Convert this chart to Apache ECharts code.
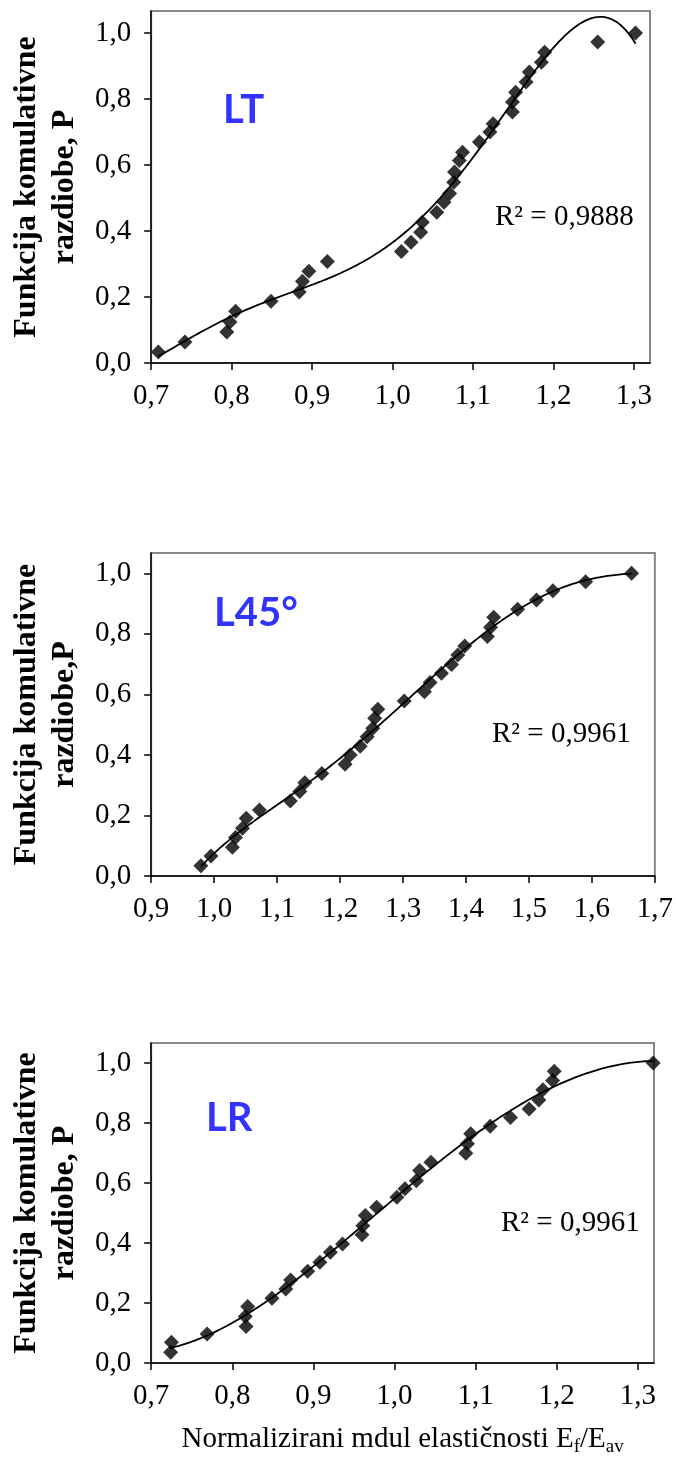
<!DOCTYPE html>
<html>
<head>
<meta charset="utf-8">
<script src="https://cdn.jsdelivr.net/npm/echarts@6/dist/echarts.min.js"></script>
<style>
html,body{margin:0;padding:0;background:#fff;}
#main{width:676px;height:1459px;}
</style>
</head>
<body>
<div id="main"></div>
<script>
// LT
var ltX = [0.709,0.742,0.794,0.798,0.805,0.849,0.884,0.888,0.896,0.919,1.011,1.023,1.035,1.037,1.055,1.064,1.071,1.076,1.077,1.083,1.087,1.108,1.121,1.125,1.149,1.149,1.153,1.166,1.170,1.185,1.189,1.255,1.302];
var ltP = [0.033,0.064,0.094,0.124,0.157,0.187,0.215,0.248,0.278,0.308,0.338,0.366,0.396,0.427,0.457,0.487,0.514,0.548,0.579,0.614,0.639,0.670,0.700,0.725,0.761,0.791,0.821,0.852,0.882,0.912,0.942,0.973,1.000];
// L45
var l45X = [0.979,0.995,1.029,1.034,1.045,1.051,1.072,1.121,1.136,1.144,1.171,1.208,1.216,1.232,1.243,1.252,1.255,1.260,1.302,1.334,1.343,1.361,1.377,1.387,1.398,1.434,1.439,1.444,1.482,1.512,1.538,1.590,1.663];
var l45P = [0.034,0.066,0.095,0.127,0.158,0.191,0.218,0.248,0.279,0.308,0.339,0.369,0.400,0.429,0.460,0.488,0.521,0.551,0.578,0.609,0.639,0.670,0.699,0.730,0.760,0.791,0.822,0.855,0.881,0.912,0.942,0.972,1.000];
// LR
var lrX = [0.724,0.725,0.769,0.817,0.816,0.819,0.849,0.866,0.872,0.893,0.908,0.921,0.936,0.960,0.961,0.964,0.978,1.003,1.013,1.027,1.031,1.045,1.088,1.090,1.094,1.118,1.143,1.166,1.178,1.183,1.195,1.197,1.319];
var lrP = [0.036,0.069,0.097,0.122,0.155,0.188,0.216,0.247,0.277,0.306,0.336,0.369,0.397,0.428,0.458,0.492,0.519,0.553,0.581,0.608,0.642,0.669,0.699,0.731,0.764,0.789,0.819,0.847,0.877,0.911,0.942,0.973,1.000];

var xTicksA = [0.7,0.8,0.9,1.0,1.1,1.2,1.3];
var xTicksB = [0.9,1.0,1.1,1.2,1.3,1.4,1.5,1.6,1.7];
var yTicks = [0,0.2,0.4,0.6,0.8,1.0];

var labels = ['LT','L45°','LR'];
var r2 = ['R² = 0,9888','R² = 0,9961','R² = 0,9961'];
var yNames = ['Funkcija komulativne\nrazdiobe, P','Funkcija komulativne\nrazdiobe,P','Funkcija komulativne\nrazdiobe, P'];
var trendOrder = [5, 6, 4];

// polinomski trend (najmanji kvadrati), kao excel trendline
function polyFit(xs, ys, order) {
  var n = xs.length, mx = 0, sx = 0, i, r, c, k;
  for (i = 0; i < n; i++) mx += xs[i];
  mx /= n;
  for (i = 0; i < n; i++) sx += (xs[i]-mx)*(xs[i]-mx);
  sx = Math.sqrt(sx/n);
  var m = order+1, A = [], b = [];
  for (r = 0; r < m; r++) { A.push([]); b.push(0); for (c = 0; c < m; c++) A[r].push(0); }
  for (i = 0; i < n; i++) {
    var t = (xs[i]-mx)/sx, p = [1];
    for (k = 1; k < m; k++) p.push(p[k-1]*t);
    for (r = 0; r < m; r++) {
      b[r] += p[r]*ys[i];
      for (c = 0; c < m; c++) A[r][c] += p[r]*p[c];
    }
  }
  for (c = 0; c < m; c++) {
    var piv = c;
    for (r = c+1; r < m; r++) if (Math.abs(A[r][c]) > Math.abs(A[piv][c])) piv = r;
    var tmp = A[c]; A[c] = A[piv]; A[piv] = tmp;
    tmp = b[c]; b[c] = b[piv]; b[piv] = tmp;
    for (r = c+1; r < m; r++) {
      var f = A[r][c]/A[c][c];
      for (k = c; k < m; k++) A[r][k] -= f*A[c][k];
      b[r] -= f*b[c];
    }
  }
  var co = [];
  for (r = m-1; r >= 0; r--) {
    var s = b[r];
    for (k = r+1; k < m; k++) s -= A[r][k]*co[k];
    co[r] = s/A[r][r];
  }
  return function(x) {
    var t = (x-mx)/sx, v = 0, pw = 1;
    for (var k = 0; k < m; k++) { v += co[k]*pw; pw *= t; }
    return v;
  };
}

function trend(xs, ys, order) {
  var fn = polyFit(xs, ys, order);
  var lo = Math.min.apply(null, xs), hi = Math.max.apply(null, xs);
  var out = [];
  for (var i = 0; i <= 200; i++) {
    var x = lo + (hi-lo)*i/200;
    out.push([x, fn(x)]);
  }
  return out;
}

function pairs(xs, ys) {
  return xs.map(function(x, i) { return [x, ys[i]]; });
}

function fmt(v) { return v.toFixed(1).replace('.', ','); }

var serif = 'Liberation Serif';

function xAx(idx, min, max, ticks) {
  return {
    type: 'value', gridIndex: idx, min: min, max: max,
    axisLine: {onZero: false, lineStyle: {color: '#000', width: 1.5}},
    axisTick: {length: 7, customValues: ticks, lineStyle: {color: '#000', width: 1.5}},
    axisLabel: {customValues: ticks, margin: 19, fontFamily: serif, fontSize: 29, color: '#000', formatter: fmt},
    splitLine: {show: false}
  };
}
function yAx(idx, gap) {
  return {
    type: 'value', gridIndex: idx, min: 0, max: 1.067,
    name: yNames[idx], nameLocation: 'middle', nameRotate: 90, nameGap: gap,
    nameTextStyle: {fontFamily: serif, fontWeight: 'bold', fontSize: 32, lineHeight: 38, color: '#000'},
    axisLine: {onZero: false, lineStyle: {color: '#000', width: 1.5}},
    axisTick: {length: 7, customValues: yTicks, lineStyle: {color: '#000', width: 1.5}},
    axisLabel: {customValues: yTicks, margin: 20, fontFamily: serif, fontSize: 29, color: '#000', formatter: fmt},
    splitLine: {show: false}
  };
}

var grid = {show: true, borderColor: '#888', borderWidth: 2, backgroundColor: '#fff'};

var xa3 = xAx(2, 0.7, 1.32, xTicksA);
xa3.name = '{n|Normalizirani mdul elastičnosti E}{s|f}{n|/E}{s|av}';
xa3.nameLocation = 'middle';
xa3.nameGap = 58;
xa3.nameTextStyle = {
  rich: {
    n: {fontFamily: serif, fontSize: 29, lineHeight: 36, color: '#000'},
    s: {fontFamily: serif, fontSize: 19, lineHeight: 19, color: '#000', verticalAlign: 'bottom'}
  }
};

function scatter(idx, xs, ys) {
  return {type: 'scatter', xAxisIndex: idx, yAxisIndex: idx, data: pairs(xs, ys),
    symbol: 'diamond', symbolSize: 15, itemStyle: {color: '#000'}, z: 3};
}
function line(idx, xs, ys) {
  return {type: 'line', xAxisIndex: idx, yAxisIndex: idx, data: trend(xs, ys, trendOrder[idx]),
    showSymbol: false, symbol: 'none', lineStyle: {color: '#000', width: 1.8}, z: 2};
}

function txt(str, x, y, font, color) {
  return {type: 'text', x: x, y: y, z: 10,
    style: {text: str, font: font, fill: color, verticalAlign: 'middle', align: 'left'}};
}

var option = {
  backgroundColor: '#FFFFFF',
  animation: false,
  grid: [
    Object.assign({left: 151, top: 11, right: 26, bottom: 1096}, grid),
    Object.assign({left: 144, top: 553, right: 21, bottom: 583}, grid),
    Object.assign({left: 150, top: 1043, right: 22, bottom: 96}, grid)
  ],
  xAxis: [xAx(0, 0.7, 1.32, xTicksA), xAx(1, 0.9, 1.7, xTicksB), xa3],
  yAxis: [yAx(0, 60), yAx(1, 57), yAx(2, 61)],
  series: [
    line(0, ltX, ltP), scatter(0, ltX, ltP),
    line(1, l45X, l45P), scatter(1, l45X, l45P),
    line(2, lrX, lrP), scatter(2, lrX, lrP)
  ],
  graphic: [
    txt(labels[0], 223, 110, 'bold 40px Lato', '#3333FF'),
    txt(labels[1], 214, 613, 'bold 40px Lato', '#3333FF'),
    txt(labels[2], 206, 1118, 'bold 40px Lato', '#3333FF'),
    txt(r2[0], 495, 217, '29px "Liberation Serif"', '#000'),
    txt(r2[1], 492, 734, '29px "Liberation Serif"', '#000'),
    txt(r2[2], 501, 1223, '29px "Liberation Serif"', '#000')
  ]
};

var chart = echarts.init(document.getElementById('main'));
chart.setOption(option);
</script>
</body>
</html>
